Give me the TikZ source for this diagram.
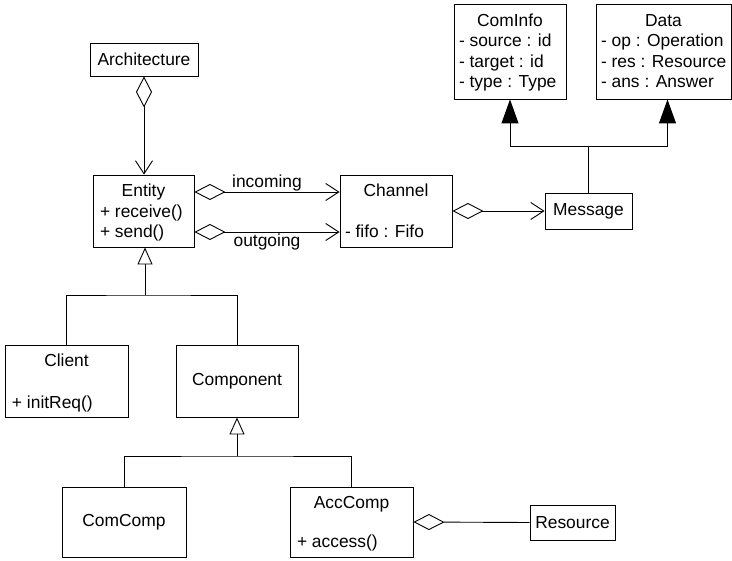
\documentclass[tikz,border=0pt]{standalone}
\usepackage{fontspec}
\setmainfont{Liberation Sans}
\usetikzlibrary{arrows.meta}

\begin{document}
\begin{tikzpicture}[x=1pt,y=-1pt,line width=0.9pt,
    font=\fontsize{17.4}{20.7}\selectfont,
    cls/.style={draw,inner sep=0pt},
    title/.style={anchor=base,inner sep=0pt},
    attr/.style={anchor=base west,inner sep=0pt},
    agg/.style={{Diamond[open,length=31pt,width=16pt]}-{Straight Barb[length=13pt,width=17pt]}},
    inh/.style={-{Triangle[open,length=17pt,width=15pt]}},
    real/.style={-{Triangle[length=24pt,width=17pt]}}]
      \useasboundingbox (0,0) rectangle (732,561);
      % classes
      \node[cls,minimum width=108pt,minimum height=33pt] (arch) at (144,59.5) {Architecture};
      \node[cls,minimum width=101pt,minimum height=72pt] (entity) at (143.5,211) {};
      \node[title] (entityname) at ([yshift=-22pt]entity.north) {Entity};
      \node[attr] (entityrecv) at ([xshift=7pt,yshift=30pt]entity.south west) {+ receive()};
      \node[attr] (entitysend) at ([xshift=7pt,yshift=9.5pt]entity.south west) {+ send()};
      \node[cls,minimum width=112pt,minimum height=72pt] (channel) at (396,211) {};
      \node[title] (channelname) at ([yshift=-22pt]channel.north) {Channel};
      \node[attr] (channelfifo) at ([xshift=5pt,yshift=9.5pt]channel.south west) {- fifo : Fifo};
      \node[cls,minimum width=87pt,minimum height=36pt] (message) at (588.5,211) {Message};
      \node[cls,minimum width=112pt,minimum height=95pt] (cominfo) at (510,51.5) {};
      \node[title] (cominfoname) at ([yshift=-23pt]cominfo.north) {ComInfo};
      \node[attr] (cominfosrc) at ([xshift=5pt,yshift=-43pt]cominfo.north west) {- source : id};
      \node[attr] (cominfotgt) at ([xshift=5pt,yshift=-63.5pt]cominfo.north west) {- target : id};
      \node[attr] (cominfotype) at ([xshift=5pt,yshift=-84pt]cominfo.north west) {- type : Type};
      \node[cls,minimum width=135pt,minimum height=95pt] (data) at (663.5,51.5) {};
      \node[title] (dataname) at ([yshift=-23pt]data.north) {Data};
      \node[attr] (dataop) at ([xshift=5pt,yshift=-43pt]data.north west) {- op : Operation};
      \node[attr] (datares) at ([xshift=5pt,yshift=-63.5pt]data.north west) {- res : Resource};
      \node[attr] (dataans) at ([xshift=5pt,yshift=-84pt]data.north west) {- ans : Answer};
      \node[cls,minimum width=123pt,minimum height=72pt] (client) at (66.5,381) {};
      \node[title] (clientname) at ([yshift=-22pt]client.north) {Client};
      \node[attr] (clientinit) at ([xshift=7pt,yshift=9pt]client.south west) {+ initReq()};
      \node[cls,minimum width=122pt,minimum height=72pt] (component) at (237,381) {Component};
      \node[cls,minimum width=124pt,minimum height=70pt] (comcomp) at (124,522) {ComComp};
      \node[cls,minimum width=123pt,minimum height=70pt] (acccomp) at (351.5,522) {};
      \node[title] (acccompname) at ([yshift=-22pt]acccomp.north) {AccComp};
      \node[attr] (acccompacc) at ([xshift=7pt,yshift=9.5pt]acccomp.south west) {+ access()};
      \node[cls,minimum width=85pt,minimum height=35pt] (resource) at (572.5,522.5) {Resource};
      % aggregations
      \draw[agg] (arch.south) -- (arch.south |- entity.north);
      \draw[agg] ([yshift=19pt]entity.east) -- node[above=0.5pt,inner sep=0pt] (lblin) {incoming} ([yshift=19pt]channel.west);
      \draw[agg] ([yshift=-21pt]entity.east) -- node[below=1pt,inner sep=0pt] (lblout) {outgoing} ([yshift=-21pt]channel.west);
      \draw[agg] (channel.east) -- (message.west);
      \draw[{Diamond[open,length=31pt,width=16pt]}-] (acccomp.east) -- (resource.west);
      % message parts
      \coordinate (msgjoin) at (message.north |- 0,146);
      \draw (message.north) -- (msgjoin);
      \draw[real] (msgjoin) -| (cominfo.south);
      \draw[real] (msgjoin) -| ([xshift=4pt]data.south);
      % inheritance
      \coordinate (entjoin) at (145,295);
      \draw (client.north) |- (entjoin) -| (component.north);
      \draw[inh] (entjoin) -- (entjoin |- entity.south);
      \coordinate (cmpjoin) at (component.south |- 0,456);
      \draw (comcomp.north) |- (cmpjoin) -| (acccomp.north);
      \draw[inh] (cmpjoin) -- (component.south);
    \end{tikzpicture}
\end{document}
